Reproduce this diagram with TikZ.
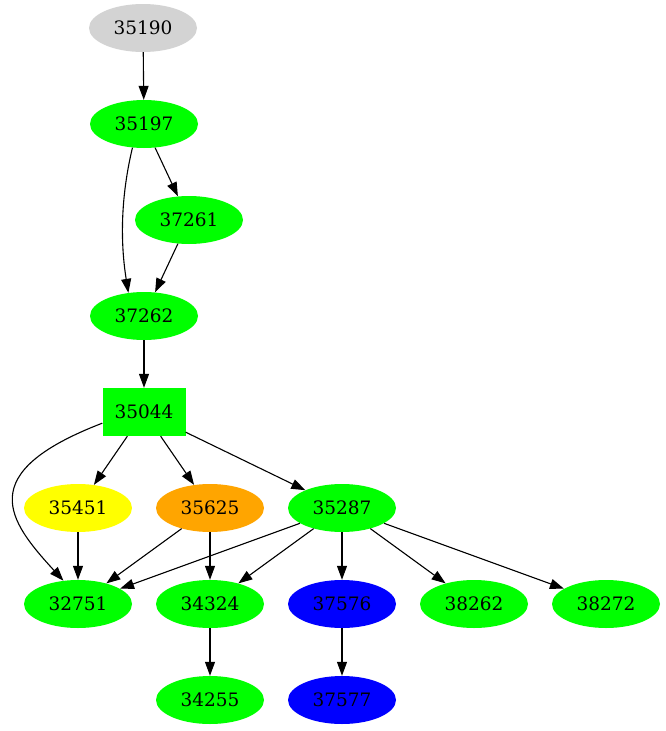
\documentclass[tikz,border=0pt]{standalone}
\usepackage{fontspec}
\setmainfont{DejaVu Serif}
\usetikzlibrary{arrows.meta,shapes.geometric}
\definecolor{gvgray}{HTML}{D3D3D3}
\definecolor{gvgreen}{HTML}{00FF00}
\definecolor{gvyellow}{HTML}{FFFF00}
\definecolor{gvorange}{HTML}{FFA500}
\definecolor{gvblue}{HTML}{0000FF}
\begin{document}
\begin{tikzpicture}[x=1pt,y=-1pt,
  every node/.style={font=\fontsize{18.5}{22}\selectfont, inner sep=0pt},
  ell/.style={ellipse, minimum width=108pt, minimum height=48pt, fill=#1},
  boxnode/.style={rectangle, minimum width=83pt, minimum height=48pt, fill=#1},
  edge/.style={line width=1.1pt, -{Triangle[length=14pt,width=10pt]}}]
\useasboundingbox (0,0) rectangle (665,731);
\node[ell=gvgray]   (n35190) at (143,28)  {35190};
\node[ell=gvgreen]  (n35197) at (144,124) {35197};
\node[ell=gvgreen]  (n37261) at (189,220) {37261};
\node[ell=gvgreen]  (n37262) at (144,316) {37262};
\node[boxnode=gvgreen] (n35044) at (144,412) {35044};
\node[ell=gvyellow] (n35451) at (78,508)  {35451};
\node[ell=gvorange] (n35625) at (210,508) {35625};
\node[ell=gvgreen]  (n35287) at (342,508) {35287};
\node[ell=gvgreen]  (n32751) at (78,604)  {32751};
\node[ell=gvgreen]  (n34324) at (210,604) {34324};
\node[ell=gvblue]   (n37576) at (342,604) {37576};
\node[ell=gvgreen]  (n38262) at (474,604) {38262};
\node[ell=gvgreen]  (n38272) at (606,604) {38272};
\node[ell=gvgreen]  (n34255) at (210,700) {34255};
\node[ell=gvblue]   (n37577) at (342,700) {37577};

\draw[edge] (n35190) -- (n35197);
\draw[edge] (n35197) -- (n37261);
\draw[edge] (n35197.244) .. controls +(-12,50) and +(-8,-50) .. (n37262.124);
\draw[edge] (n37261) -- (n37262);
\draw[edge] (n37262) -- (n35044);
\draw[edge] (n35044.195) .. controls +(-130,50) and +(-55,-60) .. (n32751.122);
\draw[edge] (n35044) -- (n35451);
\draw[edge] (n35044) -- (n35625);
\draw[edge] (n35044) -- (n35287);
\draw[edge] (n35451) -- (n32751);
\draw[edge] (n35625) -- (n32751);
\draw[edge] (n35625) -- (n34324);
\draw[edge] (n35287) -- (n32751);
\draw[edge] (n35287) -- (n34324);
\draw[edge] (n35287) -- (n37576);
\draw[edge] (n35287) -- (n38262);
\draw[edge] (n35287) -- (n38272);
\draw[edge] (n34324) -- (n34255);
\draw[edge] (n37576) -- (n37577);
\end{tikzpicture}
\end{document}
